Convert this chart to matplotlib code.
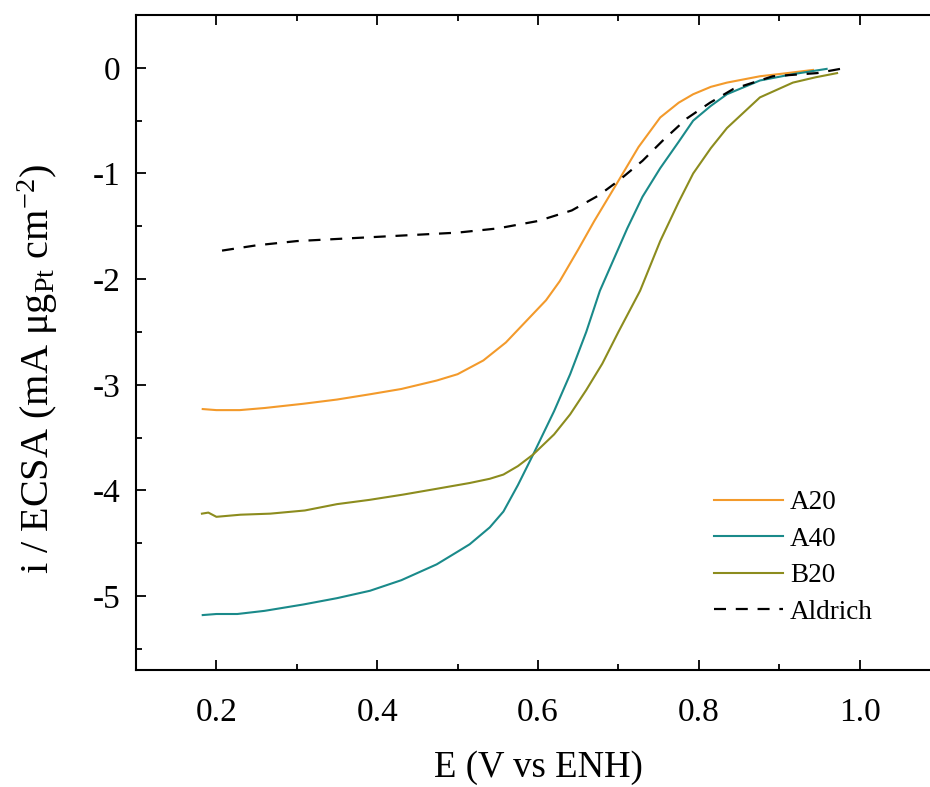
import matplotlib
matplotlib.use("Agg")
import matplotlib.pyplot as plt
from matplotlib.ticker import MultipleLocator

plt.rcParams['font.family'] = ['Liberation Serif', 'DejaVu Serif']
plt.rcParams['mathtext.fontset'] = 'custom'
plt.rcParams['mathtext.rm'] = 'Liberation Serif'
plt.rcParams['mathtext.it'] = 'Liberation Serif:italic'

# ---- data ----
a20_x = [0.183, 0.200, 0.229, 0.260, 0.308, 0.350, 0.391, 0.430, 0.474, 0.500, 0.532, 0.560, 0.590, 0.610,
         0.627, 0.650, 0.670, 0.700, 0.725, 0.752, 0.775, 0.793, 0.815, 0.835, 0.876, 0.910, 0.942]
a20_y = [-3.23, -3.24, -3.24, -3.22, -3.18, -3.14, -3.09, -3.04, -2.96, -2.90, -2.77, -2.60, -2.36, -2.20,
         -2.02, -1.72, -1.45, -1.07, -0.75, -0.47, -0.33, -0.25, -0.18, -0.14, -0.08, -0.05, -0.02]

a40_x = [0.183, 0.200, 0.226, 0.260, 0.308, 0.350, 0.391, 0.430, 0.474, 0.500, 0.515, 0.540, 0.557, 0.575,
         0.594, 0.620, 0.640, 0.660, 0.677, 0.711, 0.730, 0.752, 0.775, 0.793, 0.815, 0.835, 0.876, 0.917, 0.959]
a40_y = [-5.18, -5.17, -5.17, -5.14, -5.08, -5.02, -4.95, -4.85, -4.70, -4.58, -4.51, -4.35, -4.20, -3.95,
         -3.66, -3.25, -2.90, -2.50, -2.11, -1.52, -1.22, -0.95, -0.70, -0.50, -0.36, -0.25, -0.12, -0.06, -0.01]

b20_x = [0.182, 0.190, 0.200, 0.230, 0.267, 0.310, 0.350, 0.390, 0.432, 0.470, 0.515, 0.540, 0.557, 0.575,
         0.594, 0.620, 0.640, 0.660, 0.680, 0.700, 0.727, 0.752, 0.775, 0.793, 0.815, 0.835, 0.876, 0.917, 0.945, 0.972]
b20_y = [-4.22, -4.21, -4.25, -4.23, -4.22, -4.19, -4.13, -4.09, -4.04, -3.99, -3.93, -3.89, -3.85, -3.77,
         -3.66, -3.47, -3.28, -3.05, -2.80, -2.50, -2.11, -1.64, -1.27, -1.00, -0.76, -0.57, -0.28, -0.14, -0.09, -0.05]

ald_x = [0.207, 0.250, 0.300, 0.350, 0.400, 0.450, 0.500, 0.550, 0.600, 0.642, 0.675, 0.700, 0.730, 0.755,
         0.785, 0.814, 0.843, 0.892, 0.947, 0.976]
ald_y = [-1.73, -1.68, -1.64, -1.62, -1.60, -1.58, -1.56, -1.52, -1.45, -1.35, -1.21, -1.07, -0.88, -0.69,
         -0.48, -0.33, -0.20, -0.08, -0.05, -0.01]

labels = ['A20', 'A40', 'B20', 'Aldrich']
colors = ['#F39A2B', '#1A8A8A', '#8C8C1E', '#000000']

fig = plt.figure(figsize=(9.30, 7.87), dpi=100)
ax = fig.add_axes([136/930, 1-670/787, 804/930, (670-15)/787])

ax.plot(a20_x, a20_y, color=colors[0], lw=1.5, label=labels[0])
ax.plot(a40_x, a40_y, color=colors[1], lw=1.5, label=labels[1])
ax.plot(b20_x, b20_y, color=colors[2], lw=1.5, label=labels[2])
ax.plot(ald_x, ald_y, color=colors[3], lw=1.6, ls=(0, (5.4, 4.4)), label=labels[3])

ax.set_xlim(0.1, 1.1)
ax.set_ylim(-5.7, 0.5)
ax.xaxis.set_minor_locator(MultipleLocator(0.1))
ax.yaxis.set_minor_locator(MultipleLocator(0.5))
ax.set_xticks([0.2, 0.4, 0.6, 0.8, 1.0])
ax.set_xticklabels(['0.2', '0.4', '0.6', '0.8', '1.0'])
ax.set_yticks([0, -1, -2, -3, -4, -5])
ax.set_yticklabels(['0', '-1', '-2', '-3', '-4', '-5'])

ax.tick_params(which='both', direction='in', top=True, right=False, labelsize=24, width=1.3)
ax.tick_params(axis='x', which='major', length=7, pad=20)
ax.tick_params(axis='y', which='major', length=7, pad=11)
ax.tick_params(which='minor', length=4)
for s in ax.spines.values():
    s.set_linewidth(1.5)

ax.set_xlabel('E (V vs ENH)', fontsize=26.5, va='baseline')
ax.xaxis.set_label_coords(0.5, (670-777)/655)
ax.set_ylabel(r'i / ECSA (mA $\mathrm{\mu g_{Pt}}$ cm$^{-2}$)', fontsize=29, va='center')
ax.yaxis.set_label_coords((38-136)/804, (670-369)/655)

ax.legend(loc='upper left', bbox_to_anchor=(714/930, 1-490/787), bbox_transform=fig.transFigure,
          frameon=False, fontsize=19.5, borderpad=0, borderaxespad=0,
          handlelength=2.55, handletextpad=0.25, labelspacing=0.43)

fig.savefig('out.png', dpi=100)
